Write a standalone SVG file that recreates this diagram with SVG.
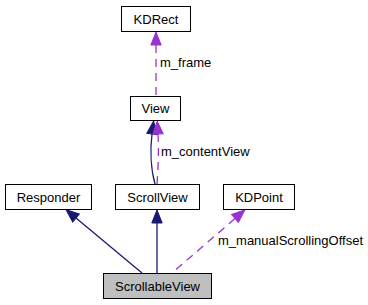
<svg xmlns="http://www.w3.org/2000/svg" width="368" height="305" viewBox="0 0 368 305">
  <style>
    .box { fill: #ffffff; stroke: #000000; stroke-width: 1; }
    .box.focus { fill: #bfbfbf; }
    .lbl { font-family: "Liberation Sans", Arial, Helvetica, sans-serif; font-size: 13px; fill: #000000; }
    .node .lbl { text-anchor: middle; }
    .inherit { fill: none; stroke: #191970; stroke-width: 1.3; marker-start: url(#arrowNavy); }
    .usage { fill: none; stroke: #9a32cd; stroke-width: 1.3; stroke-dasharray: 8,6; marker-start: url(#arrowPurple); }
  </style>
  <defs>
    <marker id="arrowNavy" markerUnits="userSpaceOnUse" markerWidth="16" markerHeight="12" refX="0" refY="6" orient="auto-start-reverse" overflow="visible">
      <path d="M0,0.8 L13,6 L0,11.2 z" fill="#191970" stroke="#191970" stroke-width="1"/>
    </marker>
    <marker id="arrowPurple" markerUnits="userSpaceOnUse" markerWidth="16" markerHeight="12" refX="0" refY="6" orient="auto-start-reverse" overflow="visible">
      <path d="M0,0.8 L13,6 L0,11.2 z" fill="#9a32cd" stroke="#9a32cd" stroke-width="1"/>
    </marker>
  </defs>

  <rect width="368" height="305" fill="#ffffff"/>

  <!-- connectors -->
  <g id="edges">
    <path class="usage" d="M156,45 L156,96"/>
    <path class="inherit" d="M152,134 C150,150 151,170 155,184"/>
    <path class="usage" d="M158,134 C159,150 158,170 157,184"/>
    <path class="inherit" d="M76,218 L142,273"/>
    <path class="inherit" d="M157,223 L157,273"/>
    <path class="usage" d="M235,218.5 L172,273"/>
    <text class="lbl" x="160" y="66.5">m_frame</text>
    <text class="lbl" x="161" y="156">m_contentView</text>
    <text class="lbl" x="218" y="245">m_manualScrollingOffset</text>
  </g>

  <!-- nodes -->
  <g id="KDRect" class="node">
    <rect class="box" x="121.5" y="6.5" width="69" height="25"/>
    <text class="lbl" x="156" y="23.5">KDRect</text>
  </g>
  <g id="View" class="node">
    <rect class="box" x="130.5" y="96.5" width="50" height="24"/>
    <text class="lbl" x="155.5" y="113">View</text>
  </g>
  <g id="Responder" class="node">
    <rect class="box" x="5.5" y="184.5" width="86" height="25"/>
    <text class="lbl" x="48.5" y="201.5">Responder</text>
  </g>
  <g id="ScrollView" class="node">
    <rect class="box" x="115.5" y="184.5" width="84" height="25"/>
    <text class="lbl" x="157.5" y="201.5">ScrollView</text>
  </g>
  <g id="KDPoint" class="node">
    <rect class="box" x="223.5" y="184.5" width="71" height="25"/>
    <text class="lbl" x="259" y="201.5">KDPoint</text>
  </g>
  <g id="ScrollableView" class="node">
    <rect class="box focus" x="103.5" y="273.5" width="108" height="25"/>
    <text class="lbl" x="157.5" y="290.5">ScrollableView</text>
  </g>
</svg>
